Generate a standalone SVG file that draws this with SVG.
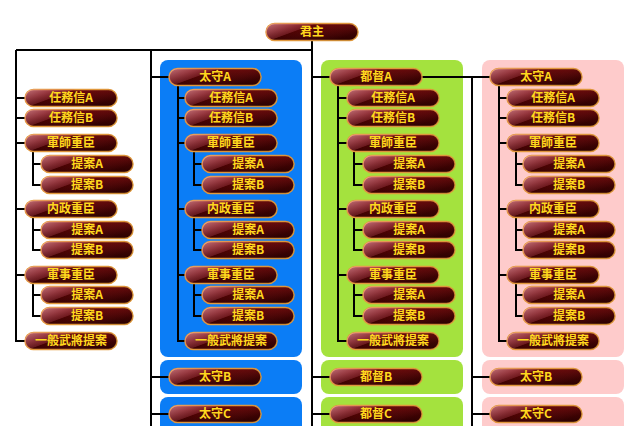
<svg xmlns="http://www.w3.org/2000/svg" width="640" height="426" viewBox="0 0 640 426">
<defs>
<linearGradient id="base" x1="0" y1="0" x2="0" y2="1">
<stop offset="0" stop-color="#680808"/>
<stop offset="1" stop-color="#360000"/>
</linearGradient>
<linearGradient id="gloss" x1="0" y1="0" x2="1" y2="0.5">
<stop offset="0" stop-color="#ffc0cc" stop-opacity="0.6"/>
<stop offset="0.25" stop-color="#e07888" stop-opacity="0.45"/>
<stop offset="0.42" stop-color="#c05060" stop-opacity="0.3"/>
<stop offset="0.44" stop-color="#c05060" stop-opacity="0"/>
<stop offset="1" stop-color="#000" stop-opacity="0.2"/>
</linearGradient>
<style>
.pill{fill:url(#base);stroke:#e39a3c;stroke-width:1.5}
.gloss{fill:url(#gloss)}
.lbl{font-family:"Noto Sans CJK TC","Noto Sans CJK JP",sans-serif;font-weight:bold;font-size:12px;fill:#ffd81e;text-anchor:middle}
.blue{fill:#0b7df6}
.green{fill:#a4e23e}
.pink{fill:#fecbcb}
.ln{fill:none;stroke:#000;stroke-width:2}
</style>
</defs>
<rect width="640" height="426" fill="#fff"/>
<g id="panels">
<rect class="blue" x="160" y="60" width="142" height="297" rx="8"/>
<rect class="blue" x="160" y="360" width="142" height="34" rx="8"/>
<rect class="blue" x="160" y="397" width="142" height="44" rx="8"/>
<rect class="green" x="321" y="60" width="142" height="297" rx="8"/>
<rect class="green" x="321" y="360" width="142" height="34" rx="8"/>
<rect class="green" x="321" y="397" width="142" height="44" rx="8"/>
<rect class="pink" x="482" y="60" width="142" height="297" rx="8"/>
<rect class="pink" x="482" y="360" width="142" height="34" rx="8"/>
<rect class="pink" x="482" y="397" width="142" height="44" rx="8"/>
</g>
<g id="connectors" class="ln">
<path d="M16,50H312M312,41V426M151,50V426M16,50V341H25"/>
<path d="M16,98H25M16,118H25M16,143H25M16,209H25M16,275H25"/>
<path d="M33,151.5V185H41M33,164H41M33,217.5V250H41M33,230H41M33,283.5V316H41M33,295H41"/>
<path d="M151,77H169M151,377H169M151,414H169M178,85.5V341H185"/>
<path d="M178,98H185M178,118H185M178,143H185M178,209H185M178,275H185"/>
<path d="M194,151.5V185H202M194,164H202M194,217.5V250H202M194,230H202M194,283.5V316H202M194,295H202"/>
<path d="M312,77H330M312,377H330M312,414H330M421,77H490M472,77V426M472,377H490M472,414H490M338,85.5V341H347"/>
<path d="M338,98H347M338,118H347M338,143H347M338,209H347M338,275H347"/>
<path d="M354,151.5V185H363M354,164H363M354,217.5V250H363M354,230H363M354,283.5V316H363M354,295H363"/>
<path d="M499,85.5V341H507M499,98H507M499,118H507M499,143H507M499,209H507M499,275H507"/>
<path d="M516,151.5V185H523M516,164H523M516,217.5V250H523M516,230H523M516,283.5V316H523M516,295H523"/>
</g>
<g id="n-kunshu" transform="translate(266,23.5)"><rect class="pill" width="92" height="17" rx="8.5"/><rect class="gloss" width="92" height="17" rx="8.5"/><text class="lbl" x="46" y="12.8">君主</text></g>

<g id="l-ninmu-a" transform="translate(25,89.5)"><rect class="pill" width="92" height="17" rx="8.5"/><rect class="gloss" width="92" height="17" rx="8.5"/><text class="lbl" x="46" y="12.8">任務信A</text></g>
<g id="l-ninmu-b" transform="translate(25,109.5)"><rect class="pill" width="92" height="17" rx="8.5"/><rect class="gloss" width="92" height="17" rx="8.5"/><text class="lbl" x="46" y="12.8">任務信B</text></g>
<g id="l-gunshi" transform="translate(25,134.5)"><rect class="pill" width="92" height="17" rx="8.5"/><rect class="gloss" width="92" height="17" rx="8.5"/><text class="lbl" x="46" y="12.8">軍師重臣</text></g>
<g id="l-gunshi-a" transform="translate(41,155.5)"><rect class="pill" width="92" height="17" rx="8.5"/><rect class="gloss" width="92" height="17" rx="8.5"/><text class="lbl" x="46" y="12.8">提案A</text></g>
<g id="l-gunshi-b" transform="translate(41,176.5)"><rect class="pill" width="92" height="17" rx="8.5"/><rect class="gloss" width="92" height="17" rx="8.5"/><text class="lbl" x="46" y="12.8">提案B</text></g>
<g id="l-naisei" transform="translate(25,200.5)"><rect class="pill" width="92" height="17" rx="8.5"/><rect class="gloss" width="92" height="17" rx="8.5"/><text class="lbl" x="46" y="12.8">内政重臣</text></g>
<g id="l-naisei-a" transform="translate(41,221.5)"><rect class="pill" width="92" height="17" rx="8.5"/><rect class="gloss" width="92" height="17" rx="8.5"/><text class="lbl" x="46" y="12.8">提案A</text></g>
<g id="l-naisei-b" transform="translate(41,241.5)"><rect class="pill" width="92" height="17" rx="8.5"/><rect class="gloss" width="92" height="17" rx="8.5"/><text class="lbl" x="46" y="12.8">提案B</text></g>
<g id="l-gunji" transform="translate(25,266.5)"><rect class="pill" width="92" height="17" rx="8.5"/><rect class="gloss" width="92" height="17" rx="8.5"/><text class="lbl" x="46" y="12.8">軍事重臣</text></g>
<g id="l-gunji-a" transform="translate(41,286.5)"><rect class="pill" width="92" height="17" rx="8.5"/><rect class="gloss" width="92" height="17" rx="8.5"/><text class="lbl" x="46" y="12.8">提案A</text></g>
<g id="l-gunji-b" transform="translate(41,307.5)"><rect class="pill" width="92" height="17" rx="8.5"/><rect class="gloss" width="92" height="17" rx="8.5"/><text class="lbl" x="46" y="12.8">提案B</text></g>
<g id="l-ippan" transform="translate(25,332.5)"><rect class="pill" width="92" height="17" rx="8.5"/><rect class="gloss" width="92" height="17" rx="8.5"/><text class="lbl" x="46" y="12.8">一般武將提案</text></g>

<g id="b-taishu-a" transform="translate(169,68.5)"><rect class="pill" width="92" height="17" rx="8.5"/><rect class="gloss" width="92" height="17" rx="8.5"/><text class="lbl" x="46" y="12.8">太守A</text></g>
<g id="b-ninmu-a" transform="translate(185,89.5)"><rect class="pill" width="92" height="17" rx="8.5"/><rect class="gloss" width="92" height="17" rx="8.5"/><text class="lbl" x="46" y="12.8">任務信A</text></g>
<g id="b-ninmu-b" transform="translate(185,109.5)"><rect class="pill" width="92" height="17" rx="8.5"/><rect class="gloss" width="92" height="17" rx="8.5"/><text class="lbl" x="46" y="12.8">任務信B</text></g>
<g id="b-gunshi" transform="translate(185,134.5)"><rect class="pill" width="92" height="17" rx="8.5"/><rect class="gloss" width="92" height="17" rx="8.5"/><text class="lbl" x="46" y="12.8">軍師重臣</text></g>
<g id="b-gunshi-a" transform="translate(202,155.5)"><rect class="pill" width="92" height="17" rx="8.5"/><rect class="gloss" width="92" height="17" rx="8.5"/><text class="lbl" x="46" y="12.8">提案A</text></g>
<g id="b-gunshi-b" transform="translate(202,176.5)"><rect class="pill" width="92" height="17" rx="8.5"/><rect class="gloss" width="92" height="17" rx="8.5"/><text class="lbl" x="46" y="12.8">提案B</text></g>
<g id="b-naisei" transform="translate(185,200.5)"><rect class="pill" width="92" height="17" rx="8.5"/><rect class="gloss" width="92" height="17" rx="8.5"/><text class="lbl" x="46" y="12.8">内政重臣</text></g>
<g id="b-naisei-a" transform="translate(202,221.5)"><rect class="pill" width="92" height="17" rx="8.5"/><rect class="gloss" width="92" height="17" rx="8.5"/><text class="lbl" x="46" y="12.8">提案A</text></g>
<g id="b-naisei-b" transform="translate(202,241.5)"><rect class="pill" width="92" height="17" rx="8.5"/><rect class="gloss" width="92" height="17" rx="8.5"/><text class="lbl" x="46" y="12.8">提案B</text></g>
<g id="b-gunji" transform="translate(185,266.5)"><rect class="pill" width="92" height="17" rx="8.5"/><rect class="gloss" width="92" height="17" rx="8.5"/><text class="lbl" x="46" y="12.8">軍事重臣</text></g>
<g id="b-gunji-a" transform="translate(202,286.5)"><rect class="pill" width="92" height="17" rx="8.5"/><rect class="gloss" width="92" height="17" rx="8.5"/><text class="lbl" x="46" y="12.8">提案A</text></g>
<g id="b-gunji-b" transform="translate(202,307.5)"><rect class="pill" width="92" height="17" rx="8.5"/><rect class="gloss" width="92" height="17" rx="8.5"/><text class="lbl" x="46" y="12.8">提案B</text></g>
<g id="b-ippan" transform="translate(185,332.5)"><rect class="pill" width="92" height="17" rx="8.5"/><rect class="gloss" width="92" height="17" rx="8.5"/><text class="lbl" x="46" y="12.8">一般武將提案</text></g>
<g id="b-taishu-b" transform="translate(169,368.5)"><rect class="pill" width="92" height="17" rx="8.5"/><rect class="gloss" width="92" height="17" rx="8.5"/><text class="lbl" x="46" y="12.8">太守B</text></g>
<g id="b-taishu-c" transform="translate(169,405.5)"><rect class="pill" width="92" height="17" rx="8.5"/><rect class="gloss" width="92" height="17" rx="8.5"/><text class="lbl" x="46" y="12.8">太守C</text></g>

<g id="g-totoku-a" transform="translate(330,68.5)"><rect class="pill" width="92" height="17" rx="8.5"/><rect class="gloss" width="92" height="17" rx="8.5"/><text class="lbl" x="46" y="12.8">都督A</text></g>
<g id="g-ninmu-a" transform="translate(347,89.5)"><rect class="pill" width="92" height="17" rx="8.5"/><rect class="gloss" width="92" height="17" rx="8.5"/><text class="lbl" x="46" y="12.8">任務信A</text></g>
<g id="g-ninmu-b" transform="translate(347,109.5)"><rect class="pill" width="92" height="17" rx="8.5"/><rect class="gloss" width="92" height="17" rx="8.5"/><text class="lbl" x="46" y="12.8">任務信B</text></g>
<g id="g-gunshi" transform="translate(347,134.5)"><rect class="pill" width="92" height="17" rx="8.5"/><rect class="gloss" width="92" height="17" rx="8.5"/><text class="lbl" x="46" y="12.8">軍師重臣</text></g>
<g id="g-gunshi-a" transform="translate(363,155.5)"><rect class="pill" width="92" height="17" rx="8.5"/><rect class="gloss" width="92" height="17" rx="8.5"/><text class="lbl" x="46" y="12.8">提案A</text></g>
<g id="g-gunshi-b" transform="translate(363,176.5)"><rect class="pill" width="92" height="17" rx="8.5"/><rect class="gloss" width="92" height="17" rx="8.5"/><text class="lbl" x="46" y="12.8">提案B</text></g>
<g id="g-naisei" transform="translate(347,200.5)"><rect class="pill" width="92" height="17" rx="8.5"/><rect class="gloss" width="92" height="17" rx="8.5"/><text class="lbl" x="46" y="12.8">内政重臣</text></g>
<g id="g-naisei-a" transform="translate(363,221.5)"><rect class="pill" width="92" height="17" rx="8.5"/><rect class="gloss" width="92" height="17" rx="8.5"/><text class="lbl" x="46" y="12.8">提案A</text></g>
<g id="g-naisei-b" transform="translate(363,241.5)"><rect class="pill" width="92" height="17" rx="8.5"/><rect class="gloss" width="92" height="17" rx="8.5"/><text class="lbl" x="46" y="12.8">提案B</text></g>
<g id="g-gunji" transform="translate(347,266.5)"><rect class="pill" width="92" height="17" rx="8.5"/><rect class="gloss" width="92" height="17" rx="8.5"/><text class="lbl" x="46" y="12.8">軍事重臣</text></g>
<g id="g-gunji-a" transform="translate(363,286.5)"><rect class="pill" width="92" height="17" rx="8.5"/><rect class="gloss" width="92" height="17" rx="8.5"/><text class="lbl" x="46" y="12.8">提案A</text></g>
<g id="g-gunji-b" transform="translate(363,307.5)"><rect class="pill" width="92" height="17" rx="8.5"/><rect class="gloss" width="92" height="17" rx="8.5"/><text class="lbl" x="46" y="12.8">提案B</text></g>
<g id="g-ippan" transform="translate(347,332.5)"><rect class="pill" width="92" height="17" rx="8.5"/><rect class="gloss" width="92" height="17" rx="8.5"/><text class="lbl" x="46" y="12.8">一般武將提案</text></g>
<g id="g-totoku-b" transform="translate(330,368.5)"><rect class="pill" width="92" height="17" rx="8.5"/><rect class="gloss" width="92" height="17" rx="8.5"/><text class="lbl" x="46" y="12.8">都督B</text></g>
<g id="g-totoku-c" transform="translate(330,405.5)"><rect class="pill" width="92" height="17" rx="8.5"/><rect class="gloss" width="92" height="17" rx="8.5"/><text class="lbl" x="46" y="12.8">都督C</text></g>

<g id="p-taishu-a" transform="translate(490,68.5)"><rect class="pill" width="92" height="17" rx="8.5"/><rect class="gloss" width="92" height="17" rx="8.5"/><text class="lbl" x="46" y="12.8">太守A</text></g>
<g id="p-ninmu-a" transform="translate(507,89.5)"><rect class="pill" width="92" height="17" rx="8.5"/><rect class="gloss" width="92" height="17" rx="8.5"/><text class="lbl" x="46" y="12.8">任務信A</text></g>
<g id="p-ninmu-b" transform="translate(507,109.5)"><rect class="pill" width="92" height="17" rx="8.5"/><rect class="gloss" width="92" height="17" rx="8.5"/><text class="lbl" x="46" y="12.8">任務信B</text></g>
<g id="p-gunshi" transform="translate(507,134.5)"><rect class="pill" width="92" height="17" rx="8.5"/><rect class="gloss" width="92" height="17" rx="8.5"/><text class="lbl" x="46" y="12.8">軍師重臣</text></g>
<g id="p-gunshi-a" transform="translate(523,155.5)"><rect class="pill" width="92" height="17" rx="8.5"/><rect class="gloss" width="92" height="17" rx="8.5"/><text class="lbl" x="46" y="12.8">提案A</text></g>
<g id="p-gunshi-b" transform="translate(523,176.5)"><rect class="pill" width="92" height="17" rx="8.5"/><rect class="gloss" width="92" height="17" rx="8.5"/><text class="lbl" x="46" y="12.8">提案B</text></g>
<g id="p-naisei" transform="translate(507,200.5)"><rect class="pill" width="92" height="17" rx="8.5"/><rect class="gloss" width="92" height="17" rx="8.5"/><text class="lbl" x="46" y="12.8">内政重臣</text></g>
<g id="p-naisei-a" transform="translate(523,221.5)"><rect class="pill" width="92" height="17" rx="8.5"/><rect class="gloss" width="92" height="17" rx="8.5"/><text class="lbl" x="46" y="12.8">提案A</text></g>
<g id="p-naisei-b" transform="translate(523,241.5)"><rect class="pill" width="92" height="17" rx="8.5"/><rect class="gloss" width="92" height="17" rx="8.5"/><text class="lbl" x="46" y="12.8">提案B</text></g>
<g id="p-gunji" transform="translate(507,266.5)"><rect class="pill" width="92" height="17" rx="8.5"/><rect class="gloss" width="92" height="17" rx="8.5"/><text class="lbl" x="46" y="12.8">軍事重臣</text></g>
<g id="p-gunji-a" transform="translate(523,286.5)"><rect class="pill" width="92" height="17" rx="8.5"/><rect class="gloss" width="92" height="17" rx="8.5"/><text class="lbl" x="46" y="12.8">提案A</text></g>
<g id="p-gunji-b" transform="translate(523,307.5)"><rect class="pill" width="92" height="17" rx="8.5"/><rect class="gloss" width="92" height="17" rx="8.5"/><text class="lbl" x="46" y="12.8">提案B</text></g>
<g id="p-ippan" transform="translate(507,332.5)"><rect class="pill" width="92" height="17" rx="8.5"/><rect class="gloss" width="92" height="17" rx="8.5"/><text class="lbl" x="46" y="12.8">一般武將提案</text></g>
<g id="p-taishu-b" transform="translate(490,368.5)"><rect class="pill" width="92" height="17" rx="8.5"/><rect class="gloss" width="92" height="17" rx="8.5"/><text class="lbl" x="46" y="12.8">太守B</text></g>
<g id="p-taishu-c" transform="translate(490,405.5)"><rect class="pill" width="92" height="17" rx="8.5"/><rect class="gloss" width="92" height="17" rx="8.5"/><text class="lbl" x="46" y="12.8">太守C</text></g>
</svg>
